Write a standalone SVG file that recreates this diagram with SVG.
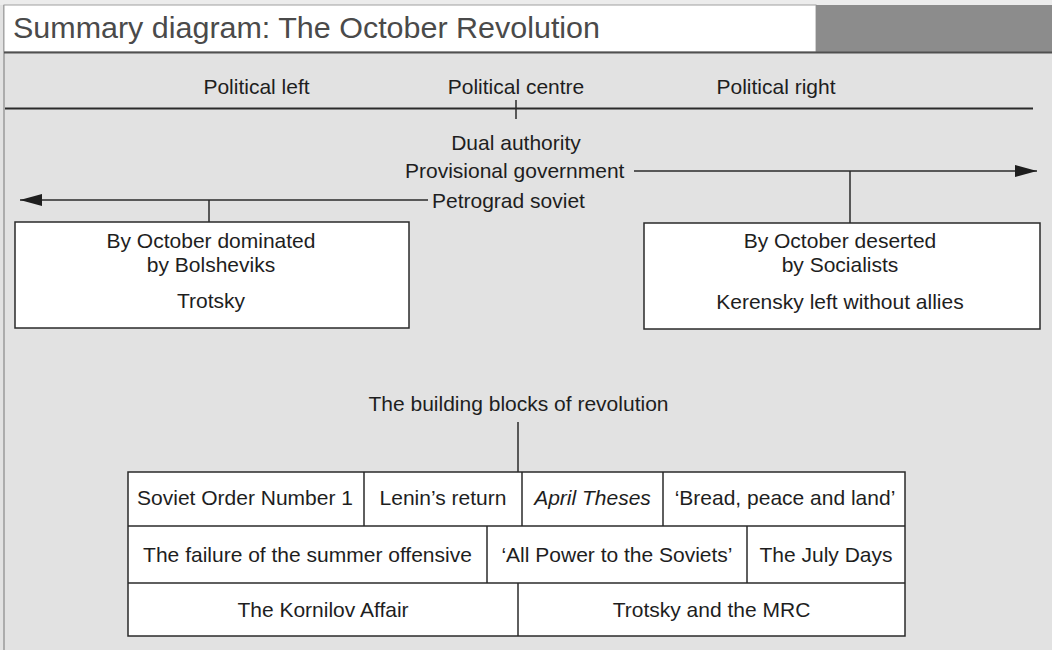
<svg xmlns="http://www.w3.org/2000/svg" width="1052" height="650" viewBox="0 0 1052 650">
<defs>
<style>
text{font-family:"Liberation Sans",Arial,sans-serif;font-size:21px;fill:#1e1e1e}
.c{text-anchor:middle}
.box{fill:#ffffff;stroke:#2a2a2a;stroke-width:1.5}
.ln{stroke:#2a2a2a;stroke-width:1.5;fill:none}
</style>
<marker id="ah" viewBox="0 0 22 12" refX="22" refY="6" markerWidth="22" markerHeight="12" markerUnits="userSpaceOnUse" orient="auto">
<path d="M0,0 L22,6 L0,12 Z" fill="#1e1e1e"/>
</marker>
</defs>
<rect x="0" y="0" width="1052" height="650" fill="#e2e2e2"/>
<rect x="0" y="0" width="1052" height="5" fill="#ececec"/>
<line x1="4" y1="5" x2="4" y2="650" stroke="#9a9a9a" stroke-width="1.5"/>
<g id="title">
<rect x="4" y="5" width="812" height="47" fill="#ffffff" stroke="#a0a0a0" stroke-width="1"/>
<rect x="816" y="5" width="236" height="47" fill="#8c8c8c"/>
<line x1="4" y1="52.5" x2="1052" y2="52.5" stroke="#505050" stroke-width="2"/>
<text x="13" y="38" style="font-size:30px;fill:#4a4a4a" textLength="587" lengthAdjust="spacingAndGlyphs">Summary diagram: The October Revolution</text>
</g>
<g id="spectrum">
<text class="c" x="256.5" y="94">Political left</text>
<text class="c" x="516" y="94">Political centre</text>
<text class="c" x="776" y="94">Political right</text>
<line class="ln" x1="5" y1="108.5" x2="1033" y2="108.5" style="stroke-width:2"/>
<line class="ln" x1="516" y1="100" x2="516" y2="119"/>
</g>
<g id="dual-authority">
<text class="c" x="516" y="150">Dual authority</text>
<text x="405" y="178">Provisional government</text>
<text x="432" y="208">Petrograd soviet</text>
</g>
<g id="left-box">
<rect class="box" x="15" y="222" width="394" height="106"/>
<text class="c" x="211" y="248">By October dominated</text>
<text class="c" x="211" y="272">by Bolsheviks</text>
<text class="c" x="211" y="308">Trotsky</text>
</g>
<g id="right-box">
<rect class="box" x="644" y="223" width="396" height="106"/>
<text class="c" x="840" y="248">By October deserted</text>
<text class="c" x="840" y="272">by Socialists</text>
<text class="c" x="840" y="309">Kerensky left without allies</text>
</g>
<g id="building-blocks-label">
<text class="c" x="518.5" y="411">The building blocks of revolution</text>
</g>
<g id="building-blocks">
<rect class="box" x="128" y="472" width="777" height="164"/>
<line class="ln" x1="128" y1="526" x2="905" y2="526"/>
<line class="ln" x1="128" y1="583" x2="905" y2="583"/>
<line class="ln" x1="364" y1="472" x2="364" y2="526"/>
<line class="ln" x1="522" y1="472" x2="522" y2="526"/>
<line class="ln" x1="663" y1="472" x2="663" y2="526"/>
<line class="ln" x1="487" y1="526" x2="487" y2="583"/>
<line class="ln" x1="747" y1="526" x2="747" y2="583"/>
<line class="ln" x1="518" y1="583" x2="518" y2="636"/>
<text class="c" x="245" y="505">Soviet Order Number 1</text>
<text class="c" x="443" y="505">Lenin’s return</text>
<text class="c" x="592.5" y="505" font-style="italic">April Theses</text>
<text class="c" x="785" y="505">‘Bread, peace and land’</text>
<text class="c" x="307.5" y="562">The failure of the summer offensive</text>
<text class="c" x="617" y="562">‘All Power to the Soviets’</text>
<text class="c" x="826" y="562">The July Days</text>
<text class="c" x="323" y="617">The Kornilov Affair</text>
<text class="c" x="711.5" y="617">Trotsky and the MRC</text>
</g>
<g id="connectors">
<line class="ln" x1="634" y1="171" x2="1037" y2="171" marker-end="url(#ah)"/>
<line class="ln" x1="428" y1="200" x2="20" y2="200" marker-end="url(#ah)"/>
<line class="ln" x1="850" y1="171" x2="850" y2="223"/>
<line class="ln" x1="209" y1="200" x2="209" y2="222"/>
<line class="ln" x1="518" y1="422" x2="518" y2="472"/>
</g>
</svg>
